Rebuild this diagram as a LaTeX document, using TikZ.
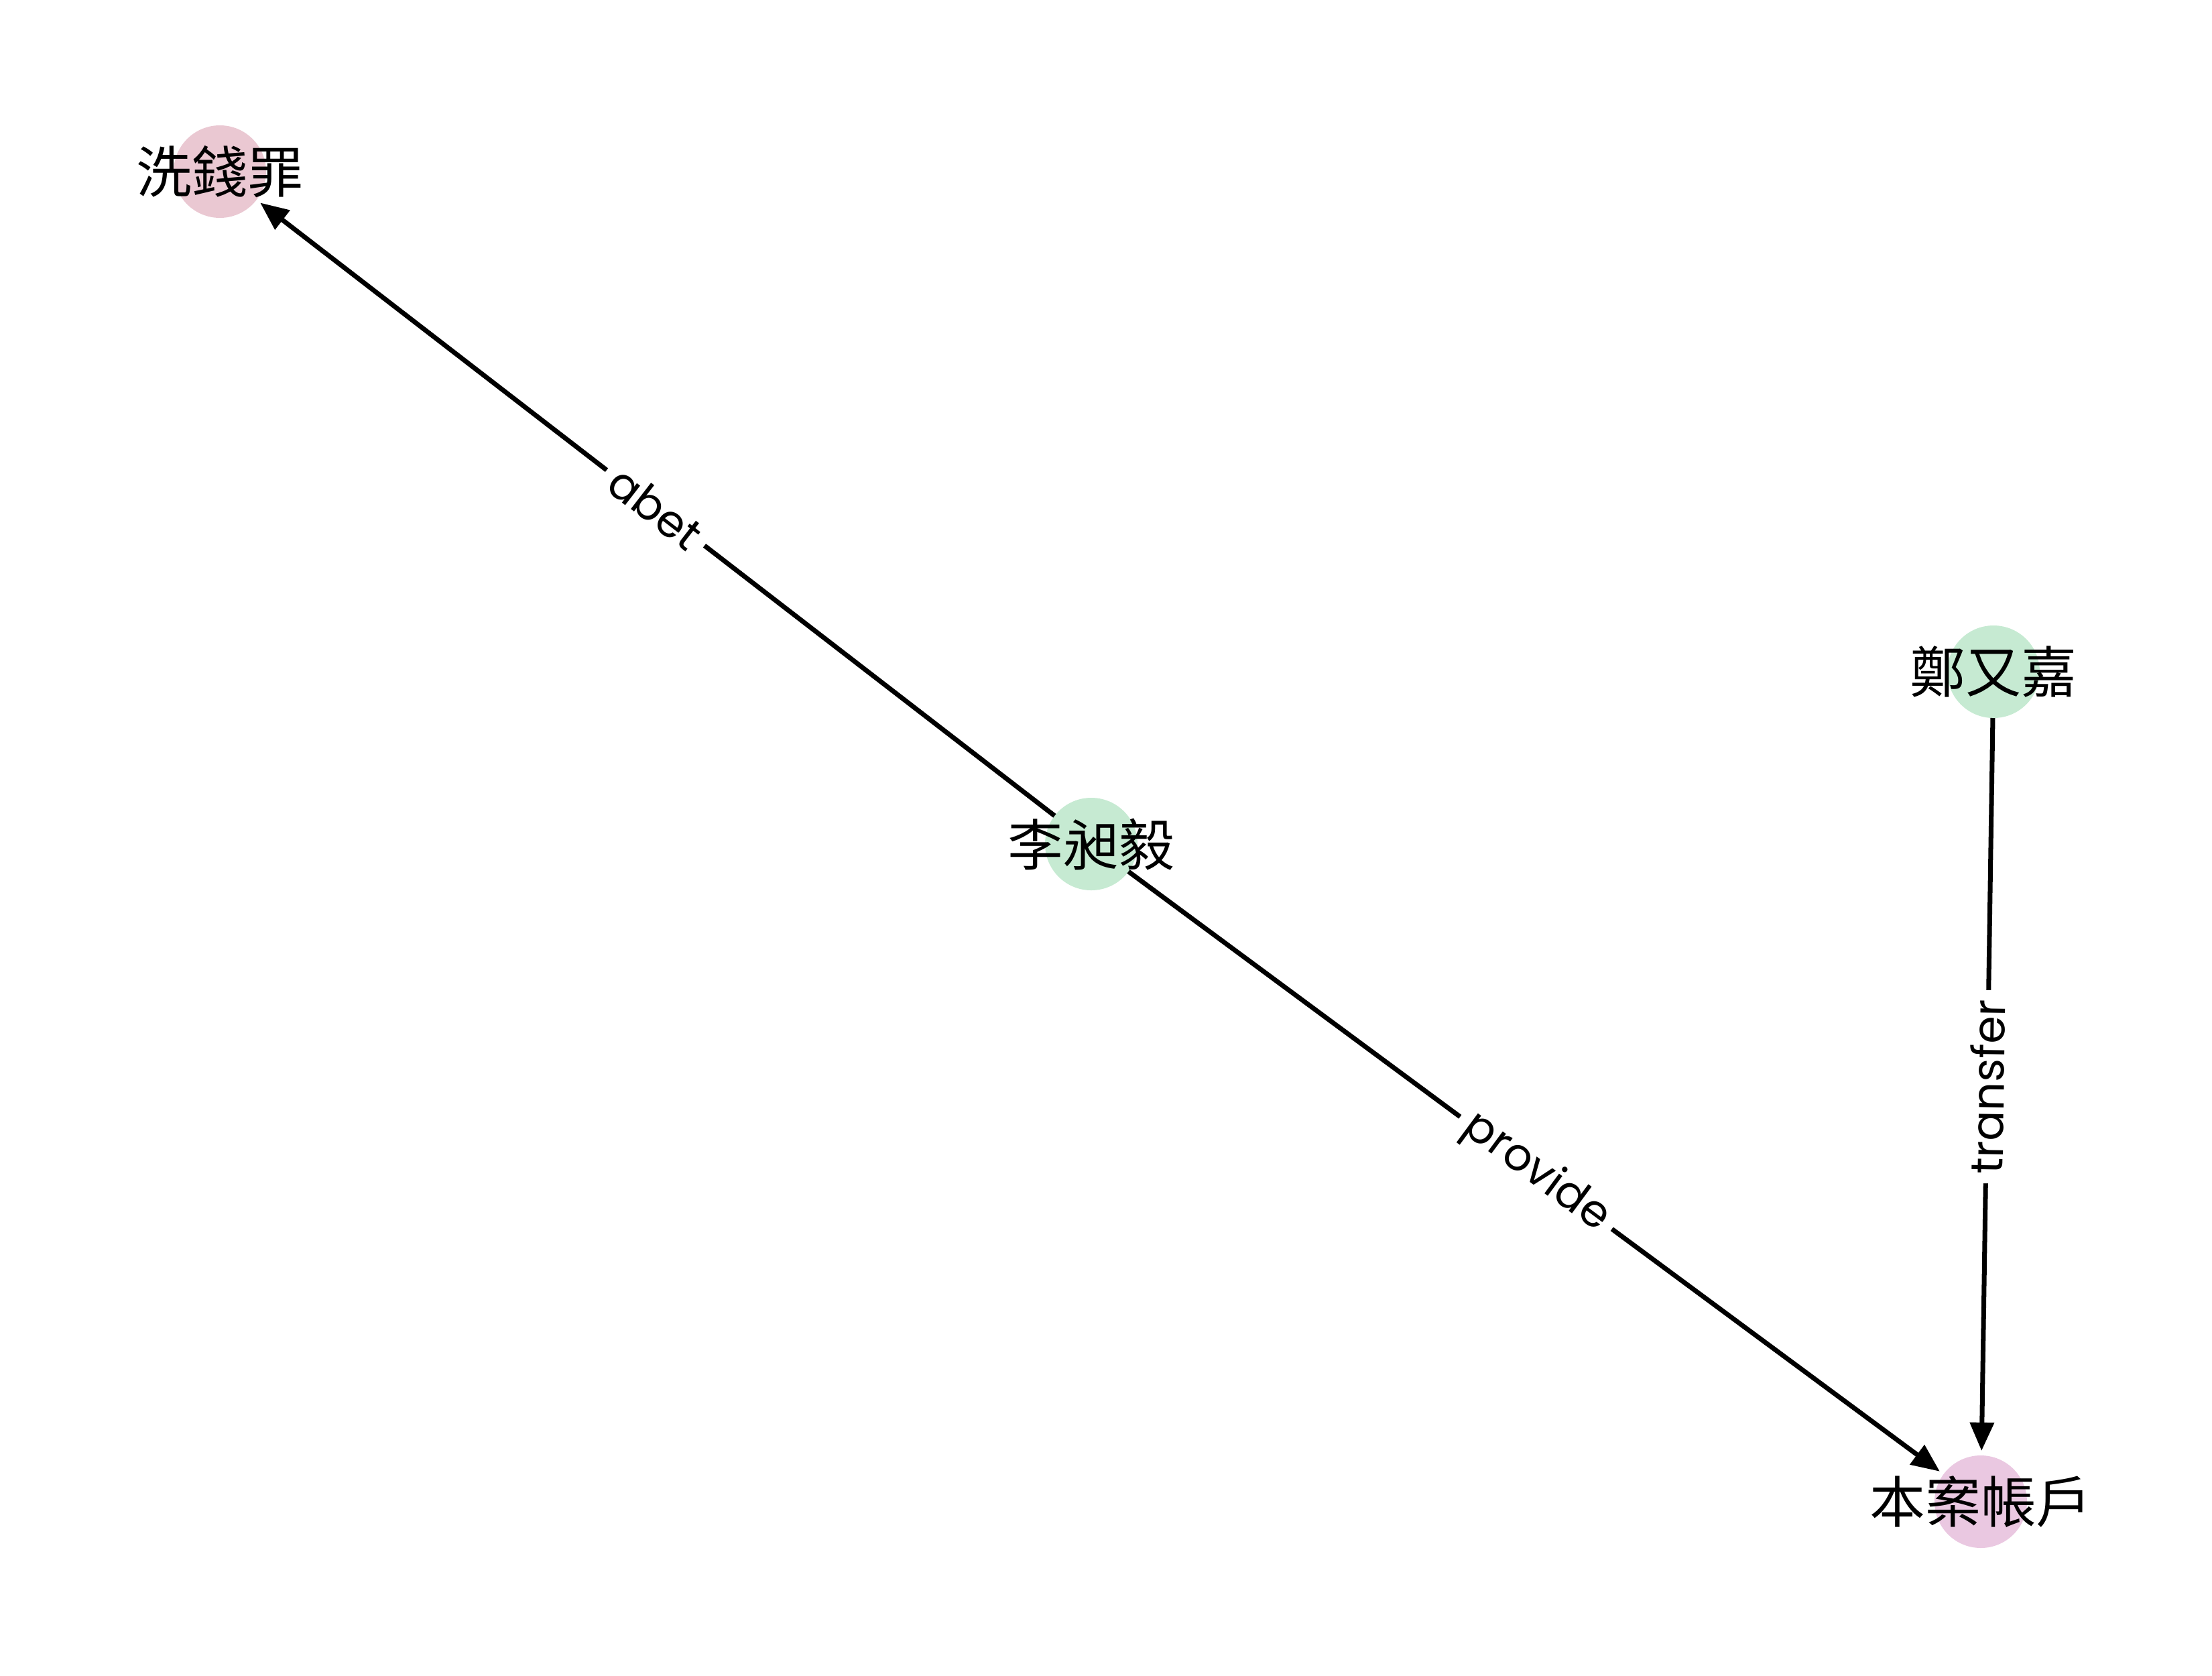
\documentclass[tikz,border=0pt]{standalone}
\usepackage{fontspec}
\setmainfont{Poppins}
\newfontfamily\cjk{Noto Sans CJK TC}
\usetikzlibrary{arrows.meta}
\definecolor{cpink}{HTML}{EAC8D2}
\definecolor{cgreen}{HTML}{C6EAD2}
\definecolor{cpurple}{HTML}{EAC8E1}
\tikzset{
  ent/.style={circle, minimum size=1.38cm, inner sep=0pt, outer sep=0pt},
  enttext/.style={font=\cjk\fontsize{23.6pt}{28pt}\selectfont, inner sep=0pt},
  rel/.style={line width=2pt, -{Triangle[length=12pt,width=10pt]}, shorten >=0.07cm},
  rellab/.style={font=\fontsize{19pt}{22pt}\selectfont, fill=white, inner sep=4pt, sloped, midway}
}
\begin{document}
\begin{tikzpicture}[x=1cm,y=1cm]
\useasboundingbox (0,0) rectangle (33,-24.99);
\node[ent, fill=cpink] (a) at (3.28,-2.56) {};
\node[ent, fill=cgreen] (b) at (16.28,-12.59) {};
\node[ent, fill=cgreen] (c) at (29.74,-10.02) {};
\node[ent, fill=cpurple] (d) at (29.55,-22.40) {};
\draw[rel] (b) -- node[rellab] (la) {abet} (a);
\draw[rel] (b) -- node[rellab] (lb) {provide} (d);
\draw[rel] (c) -- node[rellab] (lc) {transfer} (d);
\node[enttext] (ta) at (a) {洗錢罪};
\node[enttext] (tb) at (b) {李昶毅};
\node[enttext] (tc) at (c) {鄭又嘉};
\node[enttext] (td) at (d) {本案帳戶};
\end{tikzpicture}
\end{document}
